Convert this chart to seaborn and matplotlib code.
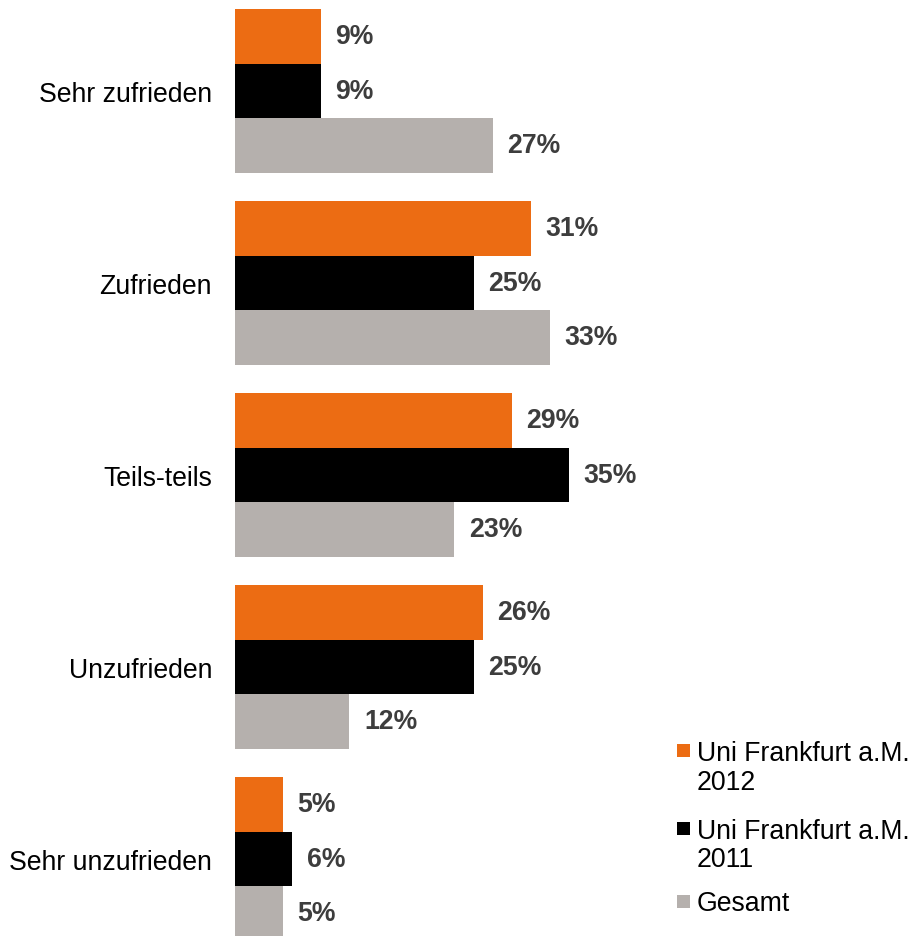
import matplotlib
matplotlib.use("Agg")
import matplotlib.pyplot as plt
from matplotlib.patches import Rectangle
import seaborn as sns
import pandas as pd

categories = ["Sehr zufrieden", "Zufrieden", "Teils-teils", "Unzufrieden", "Sehr unzufrieden"]
series_names = ["Uni Frankfurt a.M.\n2012", "Uni Frankfurt a.M.\n2011", "Gesamt"]
uni_2012 = [9, 31, 29, 26, 5]
uni_2011 = [9, 25, 35, 25, 6]
gesamt = [27, 33, 23, 12, 5]
colors = ["#EC6C13", "#000000", "#B5B0AD"]

rows = []
for name, vals in zip(series_names, [uni_2012, uni_2011, gesamt]):
    for c, v in zip(categories, vals):
        rows.append({"Kategorie": c, "Serie": name, "Wert": v})
df = pd.DataFrame(rows)

sns.set_theme(style="white")
plt.rcParams["font.family"] = ["Liberation Sans", "DejaVu Sans"]
plt.rcParams["text.color"] = "#000000"

FS = 19.2
W, H = 914, 937

fig = plt.figure(figsize=(W / 100, H / 100), dpi=100)
ax = fig.add_axes([235 / W, 0, 423 / W, 1])

sns.barplot(data=df, y="Kategorie", x="Wert", hue="Serie", orient="h",
            order=categories, hue_order=series_names, palette=colors,
            width=0.852, dodge=True, gap=0, saturation=1, ax=ax, legend=False,
            edgecolor="none", linewidth=0)

for cont, vals in zip(ax.containers, [uni_2012, uni_2011, gesamt]):
    ax.bar_label(cont, labels=[f"{v}%" for v in vals], padding=10.5,
                 fontsize=FS, fontweight="bold", color="#3d3d3d")

ax.set_xlim(0, 423 / 9.54)
ax.set_ylim(4.402, -0.478)
ax.set_xlabel("")
ax.set_ylabel("")
ax.set_xticks([])
ax.tick_params(axis="y", length=0, pad=16.5, labelsize=FS, labelcolor="#000000")
for s in ax.spines.values():
    s.set_visible(False)

# manual legend (handle aligned with first text line, as in the reference)
SQ = 13
square_tops = [745, 823, 896]
line_baselines = [[761, 790], [839, 867], [911]]
for name, col, top, bases in zip(series_names, colors, square_tops, line_baselines):
    fig.patches.append(Rectangle((677 / W, 1 - (top + SQ) / H), SQ / W, SQ / H,
                                 transform=fig.transFigure, facecolor=col,
                                 edgecolor="none"))
    for line, b in zip(name.split("\n"), bases):
        fig.text(697 / W, 1 - b / H, line, fontsize=FS, color="#000000",
                 ha="left", va="baseline")

fig.savefig("out.png", dpi=100)
